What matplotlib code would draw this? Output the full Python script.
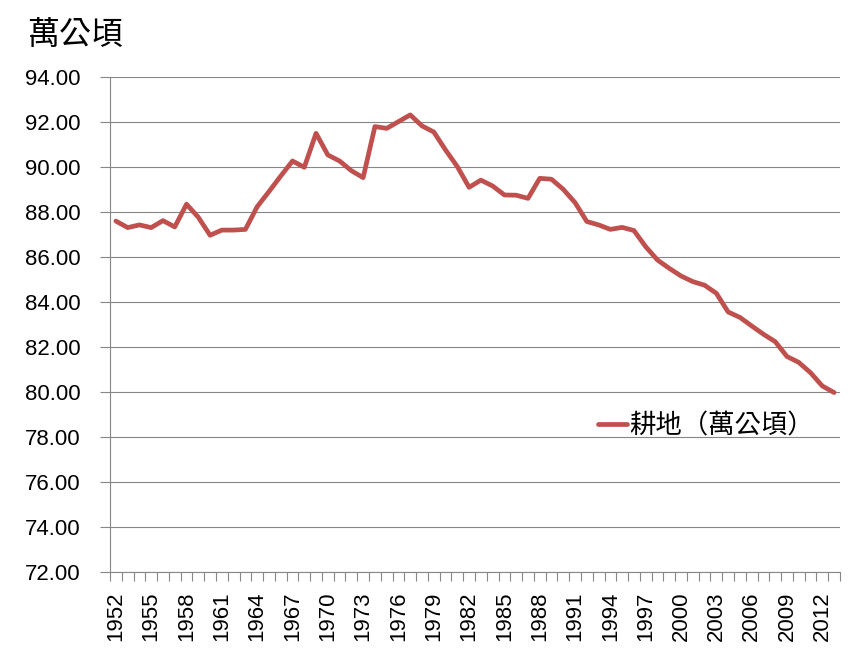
import matplotlib
matplotlib.use("Agg")
from matplotlib import pyplot as plt
import matplotlib.ticker as ticker

plt.rcParams['font.family'] = ['Liberation Sans', 'Noto Sans CJK TC', 'DejaVu Sans']

# cultivated land area, 10k hectares, 1952-2013
years = list(range(1952, 2014))
area = [87.61, 87.32, 87.44, 87.32, 87.63, 87.35, 88.36, 87.78, 86.98, 87.21,
        87.21, 87.24, 88.25, 88.92, 89.61, 90.28, 90.00, 91.51, 90.55, 90.28,
        89.85, 89.54, 91.81, 91.73, 92.03, 92.33, 91.84, 91.57, 90.77, 90.03,
        89.11, 89.43, 89.17, 88.77, 88.76, 88.62, 89.51, 89.47, 89.02, 88.43,
        87.59, 87.44, 87.24, 87.33, 87.19, 86.47, 85.88, 85.51, 85.17, 84.92,
        84.76, 84.40, 83.57, 83.33, 82.95, 82.58, 82.25, 81.59, 81.33, 80.87,
        80.28, 79.99]
series_name = '耕地（萬公頃）'
unit_label = '萬公頃'
y_ticks = [72, 74, 76, 78, 80, 82, 84, 86, 88, 90, 92, 94]

grid_col = '#868686'
line_col = '#C0504D'

fig = plt.figure(figsize=(8.58, 6.67), dpi=100)
ax = fig.add_axes([0.1282, 0.1420, 0.8508, 0.7421])

pos = list(range(len(years)))
ax.plot(pos, area, color=line_col, lw=3.4, solid_joinstyle='round',
        solid_capstyle='round', label=series_name, zorder=3)

ax.set_xlim(-0.5, len(years) - 0.5)
ax.set_ylim(y_ticks[0], y_ticks[-1])

# category labels every 3 years, ticks between categories
ax.xaxis.set_major_locator(ticker.FixedLocator(pos[::3]))
ax.xaxis.set_major_formatter(ticker.FixedFormatter([str(y) for y in years[::3]]))
ax.xaxis.set_minor_locator(ticker.MultipleLocator(1, offset=0.5))
ax.tick_params(axis='x', which='major', length=0, pad=14, labelsize=16,
               labelrotation=90)
ax.tick_params(axis='x', which='minor', length=6.5, width=0.8, color=grid_col,
               direction='out')

ax.set_yticks(y_ticks)
ax.yaxis.set_major_formatter(ticker.FormatStrFormatter('%.2f'))
ax.tick_params(axis='y', length=7, width=0.8, color=grid_col, pad=14,
               labelsize=16)

ax.grid(axis='y', color=grid_col, lw=0.8)
ax.set_axisbelow(True)
for side in ['top', 'right']:
    ax.spines[side].set_visible(False)
for side in ['left', 'bottom']:
    ax.spines[side].set_color(grid_col)
    ax.spines[side].set_linewidth(0.8)

fig.text(27 / 858, 1 - 35 / 667, unit_label, fontsize=23, va='center',
         ha='left', family=['Noto Sans CJK TC'])

leg = ax.legend(loc='center left', bbox_to_anchor=(598 / 858, 1 - 426 / 667),
                bbox_transform=fig.transFigure, frameon=False, borderpad=0,
                borderaxespad=0, handlelength=1.1, handletextpad=0.1,
                prop={'family': 'Noto Sans CJK TC', 'size': 19})

fig.savefig('out.png', dpi=100)
